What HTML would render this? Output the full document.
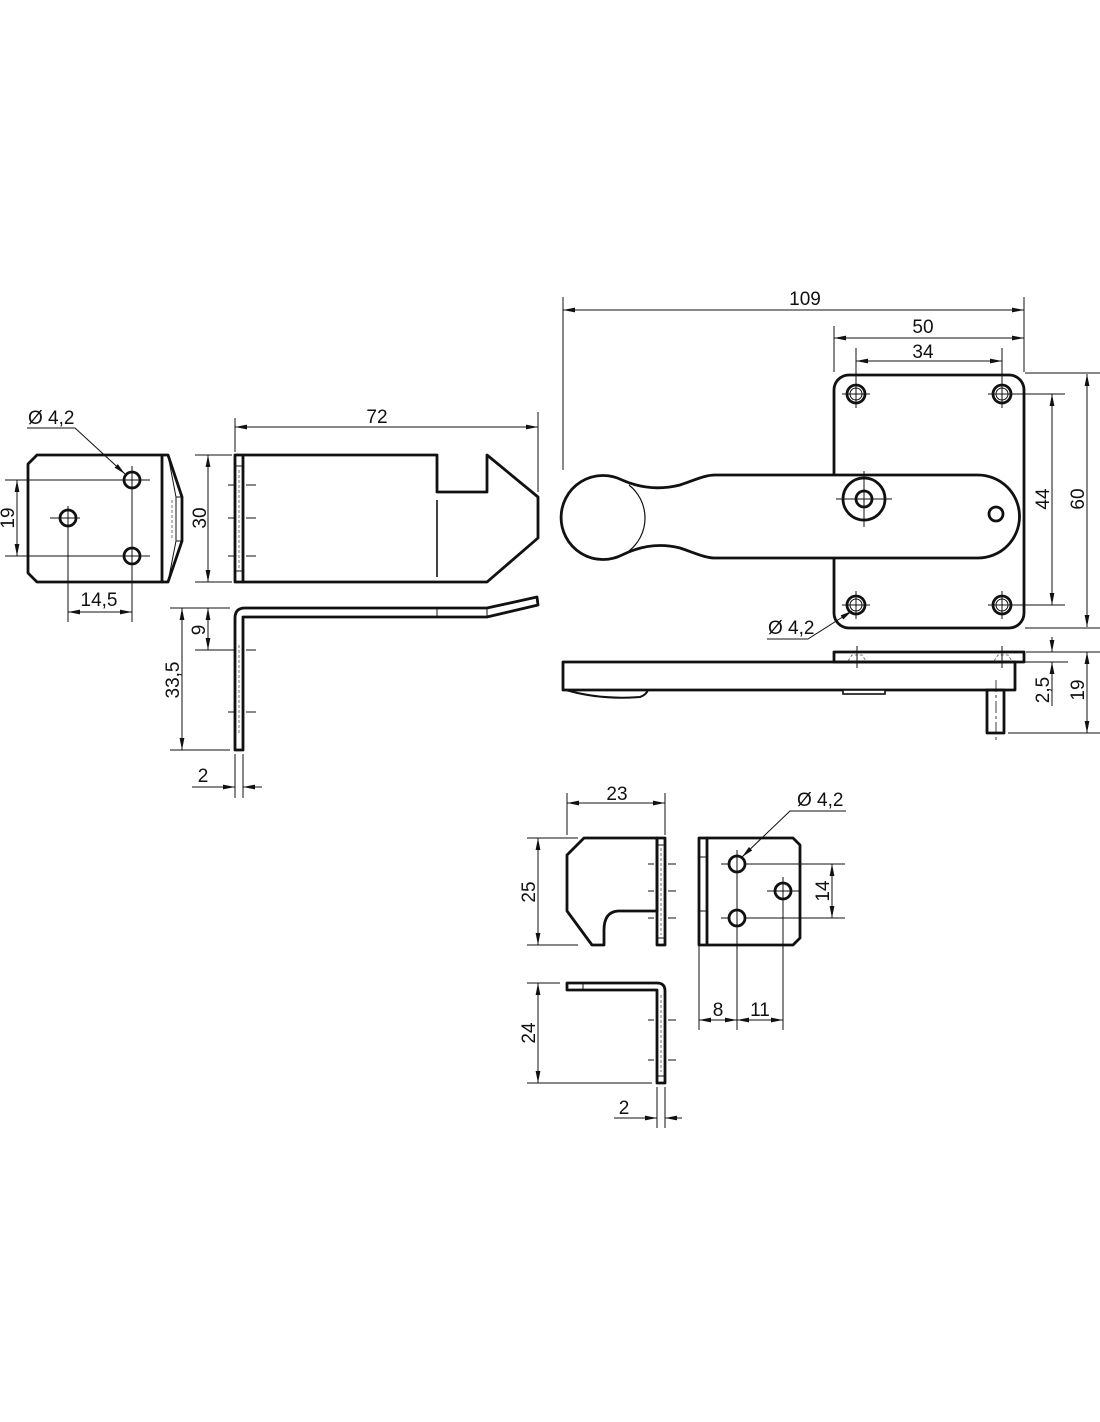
<!DOCTYPE html>
<html><head><style>
html,body{margin:0;padding:0;background:#fff;}
svg{display:block;}
text{font-family:"Liberation Sans",Arial,sans-serif;font-size:19px;fill:#111;}
.k{fill:none;stroke:#111;stroke-width:2.8;stroke-linejoin:round;}
.t{fill:none;stroke:#111;stroke-width:1;}
.c{fill:none;stroke:#111;stroke-width:0.8;stroke-dasharray:12 3 3 3;}
.h{fill:none;stroke:#555;stroke-width:0.8;stroke-dasharray:3 2;}
</style></head><body>
<svg width="1100" height="1422" viewBox="0 0 1100 1422">
<defs>
<marker id="a" viewBox="0 0 12 6" refX="12" refY="3" markerWidth="12" markerHeight="6" orient="auto-start-reverse" markerUnits="userSpaceOnUse"><path d="M0,0.6 L12,3 L0,5.4 Z" fill="#111"/></marker>
</defs>

<!-- ===== LEFT PLATE ===== -->
<path class="k" d="M37,455 H162 V582 H37 L28,573 V464 Z"/>
<path class="k" d="M162,455 L168,455 L182,497 L182,541 L168,582 L162,582"/>
<path class="t" d="M168,455 L176,497 L176,541 L168,582 M176,497 H182 M176,541 H182"/>
<path class="h" d="M172,500 V538"/>
<circle class="k" cx="132" cy="480" r="8"/>
<circle class="k" cx="68" cy="518" r="8"/>
<circle class="k" cx="132" cy="556" r="8"/>
<path class="t" d="M5,480 H150 M50,518 H80 M5,556 H150 M132,466 V622 M68,506 V622 M132,470 V490"/>
<path class="t" d="M17,480 V556" marker-start="url(#a)" marker-end="url(#a)"/>
<text x="14" y="518" transform="rotate(-90 14 518)" text-anchor="middle">19</text>
<path class="t" d="M68,612 H132" marker-start="url(#a)" marker-end="url(#a)"/>
<text x="99" y="606" text-anchor="middle">14,5</text>
<text x="28" y="424">Ø 4,2</text>
<path class="t" d="M27,428 H75 L125,474" marker-end="url(#a)"/>

<!-- ===== STRIP TOP VIEW ===== -->
<path class="k" d="M235,455 H243 V582 H235 Z"/>
<path class="t" d="M235,466 H243 M235,571 H243"/>
<path class="k" d="M243,455 H437 V492 H487 V455 L538,497 V538 L487,582 H243"/>
<path class="k" d="M437,500 V577" style="stroke-width:1.6"/>
<path class="h" d="M239,470 V568"/>
<path class="t" d="M228,485 H234 M246,485 H256 M228,518 H234 M246,518 H256 M228,556 H234 M246,556 H256"/>
<path class="t" d="M195,455 H232 M195,582 H232"/>
<path class="t" d="M208,455 V582" marker-start="url(#a)" marker-end="url(#a)"/>
<text x="206" y="518" transform="rotate(-90 206 518)" text-anchor="middle">30</text>
<path class="t" d="M235,418 V452 M538,412 V492"/>
<path class="t" d="M235,427 H538" marker-start="url(#a)" marker-end="url(#a)"/>
<text x="377" y="423" text-anchor="middle">72</text>

<!-- ===== STRIP SIDE VIEW ===== -->
<path class="k" d="M235,750 V618 Q235,608 245,608 H487 L537,597 L538,605 L487,617 H243 V750 Z"/>
<path class="t" d="M437,608 V617 M487,608 V617"/>
<path class="h" d="M239,645 V735"/>
<path class="t" d="M228,650 H234 M246,650 H256 M228,712 H234 M246,712 H256"/>
<path class="t" d="M170,608 H230 M195,650 H230 M170,750 H230"/>
<path class="t" d="M208,608 V650" marker-start="url(#a)" marker-end="url(#a)"/>
<text x="205" y="630" transform="rotate(-90 205 630)" text-anchor="middle">9</text>
<path class="t" d="M182,608 V750" marker-start="url(#a)" marker-end="url(#a)"/>
<text x="179" y="680" transform="rotate(-90 179 680)" text-anchor="middle">33,5</text>
<path class="t" d="M235,754 V798 M243,754 V798"/>
<path class="t" d="M192,787 H235" marker-end="url(#a)"/>
<path class="t" d="M262,787 H243" marker-end="url(#a)"/>
<text x="203" y="782" text-anchor="middle">2</text>

<!-- ===== RIGHT LATCH PLATE ===== -->
<rect class="k" x="834" y="375" width="190" height="253" rx="15"/>
<g>
<circle class="k" cx="856" cy="394" r="9"/><circle class="t" cx="856" cy="394" r="6"/>
<circle class="k" cx="1002" cy="394" r="9"/><circle class="t" cx="1002" cy="394" r="6"/>
<circle class="k" cx="856" cy="605" r="9"/><circle class="t" cx="856" cy="605" r="6"/>
<circle class="k" cx="1002" cy="605" r="9"/><circle class="t" cx="1002" cy="605" r="6"/>
</g>
<path class="t" d="M842,394 H870 M856,350 V408 M988,394 H1065 M1002,350 V408 M842,605 H870 M856,591 V619 M988,605 H1065 M1002,591 V619"/>
<!-- lever -->
<path d="M622,480 C640,488 660,490 680,485 C695,480 705,475 715,475 H978 A41.5,41.5 0 0 1 978,558 H715 C705,558 695,553 680,548 C660,543 640,546 622,555 A42,42 0 1 1 622,480 Z" fill="#fff" stroke="#111" stroke-width="2.8"/>
<path class="t" d="M629,485 A42,42 0 0 1 629,551" style="stroke-width:1.2"/>
<circle class="k" cx="864" cy="499" r="21"/>
<circle class="k" cx="864" cy="499" r="8"/>
<path class="t" d="M836,499 H892 M864,471 V527"/>
<circle class="k" cx="996" cy="514" r="7"/>
<!-- dims -->
<path class="t" d="M563,297 V470 M1024,297 V372 M834,326 V372 M856,348 V380 M1002,348 V380"/>
<path class="t" d="M563,310 H1024" marker-start="url(#a)" marker-end="url(#a)"/>
<text x="805" y="305" text-anchor="middle">109</text>
<path class="t" d="M834,338 H1024" marker-start="url(#a)" marker-end="url(#a)"/>
<text x="923" y="333" text-anchor="middle">50</text>
<path class="t" d="M856,361 H1002" marker-start="url(#a)" marker-end="url(#a)"/>
<text x="923" y="358" text-anchor="middle">34</text>
<path class="t" d="M1025,373 H1100 M1025,628 H1100"/>
<path class="t" d="M1052,394 V605" marker-start="url(#a)" marker-end="url(#a)"/>
<text x="1049" y="499" transform="rotate(-90 1049 499)" text-anchor="middle">44</text>
<path class="t" d="M1087,374 V627" marker-start="url(#a)" marker-end="url(#a)"/>
<text x="1084" y="499" transform="rotate(-90 1084 499)" text-anchor="middle">60</text>
<text x="768" y="634">Ø 4,2</text>
<path class="t" d="M767,639 H808 L852,611" marker-end="url(#a)"/>

<!-- ===== RIGHT SIDE VIEW ===== -->
<path class="k" d="M566,690 Q600,700 640,697 Q646,695 648,690" style="stroke-width:2"/>
<rect class="k" x="563" y="662" width="452" height="28"/>
<rect class="k" x="834" y="652" width="190" height="10"/>
<rect x="843" y="690" width="42" height="4" fill="#fff" stroke="#111" stroke-width="1.6"/>
<rect class="k" x="987" y="690" width="17" height="43"/>
<path class="h" d="M848,661 L852,655 H862 L866,661 M994,661 L998,655 H1008 L1012,661"/>
<path class="t" d="M857,646 V668 M1002,646 V668"/>
<path class="c" d="M996,680 V742"/>
<path class="t" d="M1026,652 H1100 M1016,662 H1068 M1008,733 H1100"/>
<path class="t" d="M1052,637 V652" marker-end="url(#a)"/>
<path class="t" d="M1052,706 V662" marker-end="url(#a)"/>
<text x="1049" y="690" transform="rotate(-90 1049 690)" text-anchor="middle">2,5</text>
<path class="t" d="M1087,652 V733" marker-start="url(#a)" marker-end="url(#a)"/>
<text x="1084" y="690" transform="rotate(-90 1084 690)" text-anchor="middle">19</text>

<!-- ===== BOTTOM HOOK ===== -->
<path class="k" d="M584,838 H657 V911 H618 Q604,912 604,930 V945 H592 L567,911 V855 Z"/>
<rect class="k" x="657" y="838" width="8" height="107"/>
<path class="t" d="M657,845 H665 M657,938 H665"/>
<path class="h" d="M661,848 V935"/>
<path class="t" d="M648,864 H654 M668,864 H676 M648,891 H654 M668,891 H676 M648,918 H654 M668,918 H676"/>
<path class="t" d="M567,793 V835 M665,793 V835"/>
<path class="t" d="M567,803 H665" marker-start="url(#a)" marker-end="url(#a)"/>
<text x="617" y="800" text-anchor="middle">23</text>
<path class="t" d="M527,838 H578 M527,945 H578"/>
<path class="t" d="M538,838 V945" marker-start="url(#a)" marker-end="url(#a)"/>
<text x="535" y="892" transform="rotate(-90 535 892)" text-anchor="middle">25</text>

<!-- ===== BOTTOM STRIKE PLATE ===== -->
<rect class="k" x="699" y="838" width="8" height="107"/>
<path class="t" d="M699,857 H707 M699,911 H707"/>
<path class="k" d="M707,838 H793 L800,845 V938 L793,945 H707"/>
<circle class="k" cx="737" cy="864" r="8"/>
<circle class="k" cx="783" cy="891" r="8"/>
<circle class="k" cx="737" cy="918" r="8"/>
<path class="t" d="M721,864 H730 M746,864 H845 M767,891 H800 M721,918 H730 M746,918 H845 M737,850 V1030 M783,877 V1030 M699,945 V1030"/>
<path class="t" d="M832,864 V918" marker-start="url(#a)" marker-end="url(#a)"/>
<text x="829" y="891" transform="rotate(-90 829 891)" text-anchor="middle">14</text>
<path class="t" d="M737,1020 H783" marker-start="url(#a)" marker-end="url(#a)"/>
<path class="t" d="M699,1020 H737" marker-start="url(#a)" marker-end="url(#a)"/>
<text x="718" y="1016" text-anchor="middle">8</text>
<text x="760" y="1016" text-anchor="middle">11</text>
<text x="797" y="806">Ø 4,2</text>
<path class="t" d="M846,811 H790 L742,857" marker-end="url(#a)"/>

<!-- ===== BOTTOM L BRACKET ===== -->
<path class="k" d="M567,983 H657 Q665,983 665,991 V1083 H657 V990 H567 Z"/>
<path class="t" d="M583,983 V990 M657,1076 H665"/>
<path class="h" d="M661,995 V1072"/>
<path class="t" d="M648,1020 H654 M668,1020 H676 M648,1060 H654 M668,1060 H676"/>
<path class="t" d="M527,983 H560 M527,1083 H652"/>
<path class="t" d="M538,983 V1083" marker-start="url(#a)" marker-end="url(#a)"/>
<text x="535" y="1033" transform="rotate(-90 535 1033)" text-anchor="middle">24</text>
<path class="t" d="M657,1087 V1128 M665,1087 V1128"/>
<path class="t" d="M614,1118 H657" marker-end="url(#a)"/>
<path class="t" d="M682,1118 H665" marker-end="url(#a)"/>
<text x="624" y="1114" text-anchor="middle">2</text>
</svg>
</body></html>
